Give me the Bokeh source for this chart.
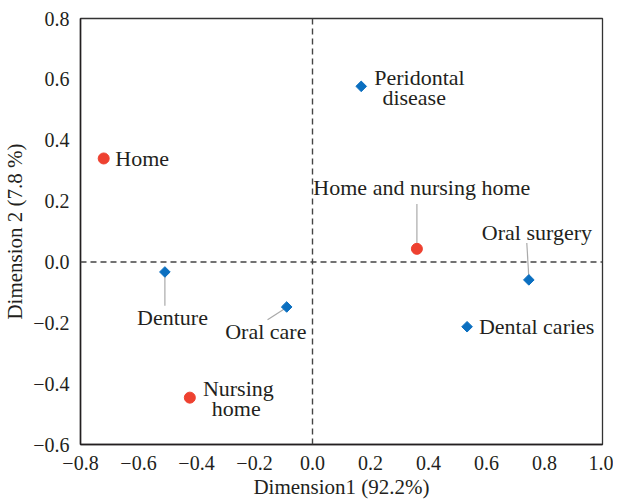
import math
from bokeh.plotting import figure
from bokeh.models import Span, Range1d, FixedTicker
from bokeh.core.properties import value
from bokeh.embed import file_html
from bokeh.resources import INLINE

# Data
place_names = ["Home", "Nursing home", "Home and nursing home"]
place_x = [-0.72, -0.423, 0.36]
place_y = [0.34, -0.446, 0.043]

need_names = ["Peridontal disease", "Oral surgery", "Dental caries", "Denture", "Oral care"]
need_x = [0.168, 0.746, 0.533, -0.509, -0.089]
need_y = [0.577, -0.059, -0.213, -0.033, -0.148]

x_ticks = [-0.8, -0.6, -0.4, -0.2, 0.0, 0.2, 0.4, 0.6, 0.8, 1.0]
y_ticks = [-0.6, -0.4, -0.2, 0.0, 0.2, 0.4, 0.6, 0.8]

FONT = "Liberation Serif"
FS_TICK = "20px"
FS_AX = "21px"
FS = "22px"
TXT = "#231f20"
RED = "#EE4130"
BLUE = "#0B6FC0"

p = figure(width=613, height=501, output_backend="svg", toolbar_location=None,
           x_range=Range1d(-0.8, 1.0), y_range=Range1d(-0.6, 0.8),
           min_border_left=78, min_border_right=11, min_border_top=18, min_border_bottom=10)
p.background_fill_color = "white"
p.border_fill_color = "white"
p.grid.visible = False
p.outline_line_color = "#333333"
p.outline_line_width = 1.3

def fmt(v):
    s = f"{v:.1f}"
    return s.replace("-", "\u2212")

for ax, ticks, lab in ((p.xaxis[0], x_ticks, "Dimension1 (92.2%)"), (p.yaxis[0], y_ticks, "Dimension 2 (7.8 %)")):
    ax.ticker = FixedTicker(ticks=ticks)
    ax.major_label_overrides = {t: fmt(t) for t in ticks}
    ax.major_tick_line_color = None
    ax.minor_tick_line_color = None
    ax.axis_line_color = TXT
    ax.axis_line_width = 1.5
    ax.major_label_text_font = FONT
    ax.major_label_text_font_size = FS_TICK
    ax.major_label_text_color = TXT
    ax.axis_label = lab
    ax.axis_label_text_font = FONT
    ax.axis_label_text_font_size = FS_AX
    ax.axis_label_text_font_style = "normal"
    ax.axis_label_text_color = TXT
p.xaxis.major_label_standoff = 5
p.yaxis.major_label_standoff = 5
p.xaxis.axis_label_standoff = 2
p.yaxis.axis_label_standoff = 3

p.add_layout(Span(location=0, dimension="width", line_color="#444444", line_dash="6 4", line_width=1.4))
p.add_layout(Span(location=0, dimension="height", line_color="#444444", line_dash="6 4", line_width=1.4))

# leader lines
lead_x0 = [0.36, 0.739, -0.509, -0.155]
lead_y0 = [0.19, 0.062, -0.036, -0.19]
lead_x1 = [0.36, 0.746, -0.509, -0.096]
lead_y1 = [0.052, -0.052, -0.144, -0.154]
p.segment(lead_x0, lead_y0, lead_x1, lead_y1, line_color="#aaaaaa", line_width=1.2)

p.scatter(place_x, place_y, marker="circle", size=11, fill_color=RED, line_color=RED)
p.scatter(need_x, need_y, marker="square", size=7.5, angle=math.pi / 4,
          fill_color=BLUE, line_color=BLUE)

lbl_x = [-0.68, 0.213, 0.241, 0.003, 0.584, 0.574, -0.605, -0.021, -0.378, -0.347]
lbl_y = [0.341, 0.607, 0.541, 0.243, 0.098, -0.213, -0.184, -0.23, -0.416, -0.482]
lbl_t = ["Home", "Peridontal", "disease", "Home and nursing home", "Oral surgery",
         "Dental caries", "Denture", "Oral care", "Nursing", "home"]
lbl_align = ["left", "left", "left", "left", "left", "left", "left", "right", "left", "left"]
p.text(lbl_x, lbl_y, text=lbl_t, text_align=lbl_align, text_baseline="middle",
       text_font=value(FONT), text_font_size=FS, text_color=TXT)

open("out.html", "w").write(file_html(p, INLINE))
